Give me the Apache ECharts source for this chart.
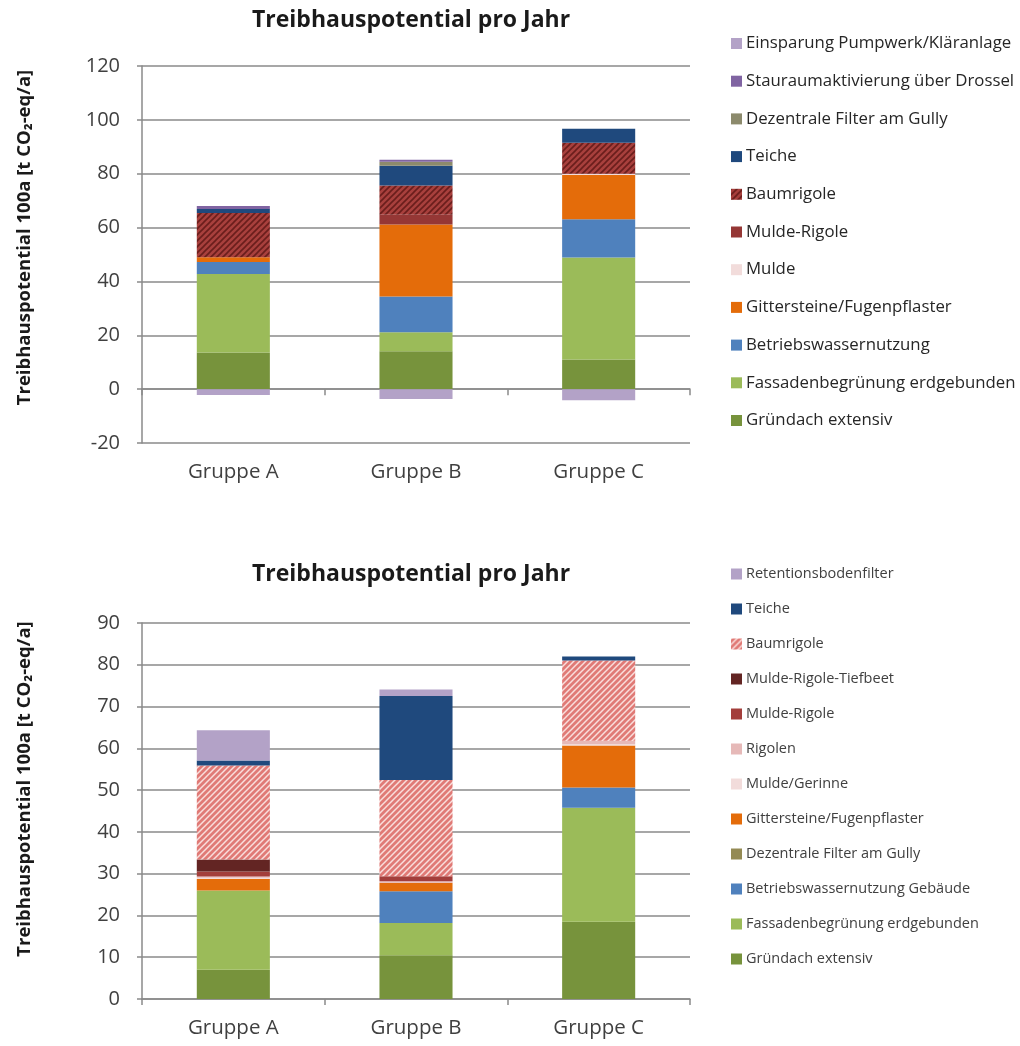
<!DOCTYPE html>
<html>
<head>
<meta charset="utf-8">
<script src="https://cdn.jsdelivr.net/npm/echarts@6/dist/echarts.min.js"></script>
<style>
  html, body { margin: 0; padding: 0; background: #fff; }
  #top { position: absolute; left: 0; top: 0; width: 1020px; height: 515px; }
  #bottom { position: absolute; left: 0; top: 515px; width: 1020px; height: 531px; }
</style>
</head>
<body>
<div id="top"></div>
<div id="bottom"></div>
<script>
// Kategorien
const groups = ["Gruppe A", "Gruppe B", "Gruppe C"];

// oberes Diagramm (Reihenfolge von unten nach oben im Stapel)
const topNames = [
  "Gründach extensiv",
  "Fassadenbegrünung erdgebunden",
  "Betriebswassernutzung",
  "Gittersteine/Fugenpflaster",
  "Mulde",
  "Mulde-Rigole",
  "Baumrigole",
  "Teiche",
  "Dezentrale Filter am Gully",
  "Stauraumaktivierung über Drossel",
  "Einsparung Pumpwerk/Kläranlage"
];
const topGruendach = [13.6, 14.1, 11.0];
const topFassade = [29.2, 7.0, 37.9];
const topBetrieb = [4.4, 13.3, 14.2];
const topGitter = [1.8, 26.7, 16.4];
const topMulde = [0, 0, 0.5];
const topMuldeRigole = [0, 3.7, 0];
const topBaumrigole = [16.4, 10.8, 11.5];
const topTeiche = [1.5, 7.4, 5.2];
const topFilter = [0, 1.4, 0];
const topStauraum = [1.1, 0.8, 0];
const topEinsparung = [-2.2, -3.7, -4.1];
const topTicks = [-20, 0, 20, 40, 60, 80, 100, 120];

// unteres Diagramm
const botNames = [
  "Gründach extensiv",
  "Fassadenbegrünung erdgebunden",
  "Betriebswassernutzung Gebäude",
  "Dezentrale Filter am Gully",
  "Gittersteine/Fugenpflaster",
  "Mulde/Gerinne",
  "Rigolen",
  "Mulde-Rigole",
  "Mulde-Rigole-Tiefbeet",
  "Baumrigole",
  "Teiche",
  "Retentionsbodenfilter"
];
const botGruendach = [7.0, 10.5, 18.5];
const botFassade = [19.0, 7.7, 27.3];
const botBetrieb = [0, 7.6, 4.8];
const botFilter = [0, 0, 0];
const botGitter = [2.7, 2.0, 10.1];
const botMulde = [0.3, 0, 0.3];
const botRigolen = [0.3, 0.4, 0.8];
const botMuldeRigole = [1.2, 1.2, 0];
const botTiefbeet = [2.9, 0, 0];
const botBaumrigole = [22.5, 23.0, 19.2];
const botTeiche = [1.2, 20.1, 1.0];
const botRetention = [7.2, 1.6, 0];
const botTicks = [0, 10, 20, 30, 40, 50, 60, 70, 80, 90];

const FONT = "Open Sans";

// Schraffur als Muster
function hatch(base, stripe, w) {
  const c = document.createElement("canvas");
  c.width = 6; c.height = 6;
  const ctx = c.getContext("2d");
  ctx.fillStyle = base;
  ctx.fillRect(0, 0, 6, 6);
  ctx.strokeStyle = stripe;
  ctx.lineWidth = w;
  ctx.beginPath();
  ctx.moveTo(-1, 7); ctx.lineTo(7, -1);
  ctx.moveTo(-4, 4); ctx.lineTo(4, -4);
  ctx.moveTo(2, 10); ctx.lineTo(10, 2);
  ctx.stroke();
  return { image: c, repeat: "repeat" };
}

function makeSeries(names, values, colors) {
  return names.map((n, i) => ({
    name: n,
    type: "bar",
    stack: "gesamt",
    barWidth: "40%",
    data: values[i],
    itemStyle: { color: colors[i] },
    emphasis: { disabled: true }
  }));
}

function makeOption(cfg) {
  return {
    animation: false,
    title: {
      text: "Treibhauspotential pro Jahr",
      left: cfg.titleLeft,
      top: cfg.titleTop,
      padding: 0,
      textStyle: { fontFamily: FONT, fontSize: 23, fontWeight: "bold", color: "#1a1a1a" }
    },
    legend: {
      orient: "vertical",
      left: 726,
      top: cfg.legendTop,
      itemWidth: 11,
      itemHeight: 11,
      itemGap: cfg.legendGap,
      icon: "rect",
      selectedMode: false,
      data: cfg.names.slice().reverse(),
      textStyle: {
        fontFamily: FONT,
        fontSize: cfg.legendFont,
        color: cfg.legendColor,
        lineHeight: 16,
        padding: [0, 0, 0, -1]
      }
    },
    grid: { left: 142, right: 330, top: cfg.gridTop, bottom: cfg.gridBottom },
    xAxis: [
      {
        type: "category",
        data: groups,
        axisLine: { onZero: true, lineStyle: { color: "#8a8a8a", width: 1.5 } },
        axisTick: { show: true, length: 6, lineStyle: { color: "#8a8a8a", width: 1.5 } },
        axisLabel: { show: false }
      },
      {
        type: "category",
        data: groups,
        position: "bottom",
        axisLine: { show: false, onZero: false },
        axisTick: { show: false },
        axisLabel: { margin: 19, fontFamily: FONT, fontSize: 20.5, color: "#404040" }
      }
    ],
    yAxis: {
      type: "value",
      min: cfg.ticks[0],
      max: cfg.ticks[cfg.ticks.length - 1],
      interval: cfg.ticks[1] - cfg.ticks[0],
      name: "Treibhauspotential 100a [t CO₂-eq/a]",
      nameLocation: "middle",
      nameGap: 108,
      nameTextStyle: {
        fontFamily: FONT, fontSize: 18.5, fontWeight: "bold", color: "#1a1a1a",
        padding: [0, 0, 0, cfg.namePad]
      },
      axisLine: { show: true, lineStyle: { color: "#8a8a8a", width: 1.5 } },
      axisTick: { show: true, length: 5, lineStyle: { color: "#8a8a8a", width: 1.5 } },
      axisLabel: { margin: 22, fontFamily: FONT, fontSize: 20, color: "#404040" },
      splitLine: { lineStyle: { color: "#8a8a8a", width: 1.5 } }
    },
    series: cfg.series
  };
}

const topColors = [
  "#77933c", "#9bbb59", "#4f81bd", "#e46c0a", "#f2dcdb", "#953735",
  hatch("#a8403d", "#6a1e1c", 1.6), "#1f497d", "#8c8a6c", "#8064a2", "#b3a2c7"
];
const botColors = [
  "#77933c", "#9bbb59", "#4f81bd", "#948a54", "#e46c0a", "#f2dcdb", "#e6b9b8",
  "#a33e3b", "#632523", hatch("#e07a76", "#f9dedc", 1.5), "#1f497d", "#b3a2c7"
];

const chartTop = echarts.init(document.getElementById("top"));
chartTop.setOption(makeOption({
  names: topNames,
  ticks: topTicks,
  titleLeft: 252,
  titleTop: 9,
  legendTop: 30,
  legendGap: 20.7,
  legendFont: 16.8,
  legendColor: "#262626",
  gridTop: 66,
  gridBottom: 72,
  namePad: 34,
  series: makeSeries(topNames, [
    topGruendach, topFassade, topBetrieb, topGitter, topMulde, topMuldeRigole,
    topBaumrigole, topTeiche, topFilter, topStauraum, topEinsparung
  ], topColors)
}));

const chartBot = echarts.init(document.getElementById("bottom"));
chartBot.setOption(makeOption({
  names: botNames,
  ticks: botTicks,
  titleLeft: 252,
  titleTop: 48,
  legendTop: 46,
  legendGap: 19,
  legendFont: 14.5,
  legendColor: "#404040",
  gridTop: 108,
  gridBottom: 47,
  namePad: 44,
  series: makeSeries(botNames, [
    botGruendach, botFassade, botBetrieb, botFilter, botGitter, botMulde, botRigolen,
    botMuldeRigole, botTiefbeet, botBaumrigole, botTeiche, botRetention
  ], botColors)
}));
</script>
</body>
</html>
